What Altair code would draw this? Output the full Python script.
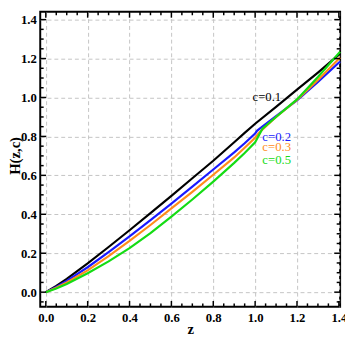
import altair as alt
import pandas as pd

series_names = ["c=0.1", "c=0.2", "c=0.3", "c=0.5"]
series_colors = ["#000000", "#1a1aff", "#ff8c1a", "#14dc14"]

z_c01 = [0, 0.05, 0.1, 0.2, 0.3, 0.4, 0.5, 0.6, 0.7, 0.8, 0.9, 0.95, 1.0, 1.1, 1.2, 1.3, 1.406]
H_c01 = [0, 0.032, 0.068, 0.148, 0.232, 0.318, 0.406, 0.495, 0.585, 0.675, 0.77, 0.818, 0.865, 0.952, 1.04, 1.128, 1.225]

z_c02 = [0, 0.05, 0.1, 0.2, 0.3, 0.4, 0.5, 0.6, 0.7, 0.8, 0.9, 0.95, 1.0, 1.01, 1.1, 1.2, 1.3, 1.406]
H_c02 = [0, 0.027, 0.058, 0.128, 0.206, 0.287, 0.37, 0.455, 0.542, 0.63, 0.718, 0.765, 0.815, 0.83, 0.905, 0.985, 1.08, 1.185]

z_c03 = [0, 0.05, 0.1, 0.2, 0.3, 0.4, 0.5, 0.6, 0.7, 0.8, 0.9, 0.95, 1.0, 1.02, 1.1, 1.2, 1.3, 1.406]
H_c03 = [0, 0.023, 0.05, 0.112, 0.185, 0.263, 0.345, 0.43, 0.515, 0.603, 0.692, 0.742, 0.793, 0.82, 0.9, 0.988, 1.09, 1.205]

z_c05 = [0, 0.05, 0.1, 0.2, 0.3, 0.4, 0.5, 0.6, 0.7, 0.8, 0.9, 0.95, 1.0, 1.035, 1.1, 1.2, 1.3, 1.406]
H_c05 = [0, 0.019, 0.042, 0.097, 0.158, 0.226, 0.303, 0.388, 0.476, 0.568, 0.664, 0.715, 0.77, 0.84, 0.9, 0.99, 1.105, 1.235]

label_z = [1.056, 1.103, 1.103, 1.103]
label_H = [1.004, 0.798, 0.743, 0.677]

major_ticks = [0.0, 0.2, 0.4, 0.6, 0.8, 1.0, 1.2, 1.4]
minor_x = [round(0.05 * i, 2) for i in range(1, 29) if i % 4 != 0]
minor_y = [round(0.05 * i, 2) for i in range(-1, 29) if i % 4 != 0]

rows = []
for name, zs, hs in zip(series_names, [z_c01, z_c02, z_c03, z_c05], [H_c01, H_c02, H_c03, H_c05]):
    for z, h in zip(zs, hs):
        rows.append({"c": name, "z": z, "H": h})
df = pd.DataFrame(rows)

lab_df = pd.DataFrame({"c": series_names, "z": label_z, "H": label_H})

W, HT = 307, 302
xs = alt.Scale(domain=[-0.0266, 1.406], nice=False, zero=False)
ys = alt.Scale(domain=[-0.0753, 1.440], nice=False, zero=False)
cs = alt.Scale(domain=series_names, range=series_colors)

FONT = "Liberation Serif"

lines = alt.Chart(df).mark_line(strokeWidth=2.2, interpolate="linear").encode(
    x=alt.X("z:Q", scale=xs, axis=alt.Axis(
        values=major_ticks, format=".1f", grid=True, gridDash=[4, 3], gridColor="#c4c4c4",
        gridWidth=1, domain=False, ticks=False, labelFlush=False, labelFont=FONT,
        labelFontWeight="bold", labelFontSize=13, labelColor="black", labelPadding=5,
        title="z", titleFont=FONT, titleFontWeight="bold", titleFontSize=15, titleColor="black",
        titleBaseline="alphabetic", titleY=27)),
    y=alt.Y("H:Q", scale=ys, axis=alt.Axis(
        values=major_ticks, format=".1f", grid=True, gridDash=[4, 3], gridColor="#c4c4c4",
        gridWidth=1, domain=False, ticks=False, labelFlush=False, labelFont=FONT,
        labelFontWeight="bold", labelFontSize=13, labelColor="black", labelPadding=4,
        title="H(z,c)", titleFont=FONT, titleFontWeight="bold", titleFontSize=15,
        titleColor="black", titleAngle=270, titleBaseline="alphabetic", titleX=-21, titleY=147)),
    color=alt.Color("c:N", scale=cs, legend=None, sort=series_names),
    detail="c:N",
)

texts = alt.Chart(lab_df).mark_text(font=FONT, fontSize=13, align="center", baseline="middle").encode(
    x=alt.X("z:Q", scale=xs),
    y=alt.Y("H:Q", scale=ys),
    color=alt.Color("c:N", scale=cs, legend=None),
    text="c:N",
)

def xticks(vals, length, top):
    d = pd.DataFrame({"v": vals})
    if top:
        yv, y2v = 0, length
    else:
        yv, y2v = HT, HT - length
    return alt.Chart(d).mark_rule(color="black", strokeWidth=1.5).encode(
        x=alt.X("v:Q", scale=xs), y=alt.value(yv), y2=alt.value(y2v))

def yticks(vals, length, right):
    d = pd.DataFrame({"v": vals})
    if right:
        xv, x2v = W, W - length
    else:
        xv, x2v = 0, length
    return alt.Chart(d).mark_rule(color="black", strokeWidth=1.5).encode(
        y=alt.Y("v:Q", scale=ys), x=alt.value(xv), x2=alt.value(x2v))

tick_layers = [
    xticks(major_ticks, 6, False), xticks(minor_x, 3.5, False),
    xticks(major_ticks, 6, True), xticks(minor_x, 3.5, True),
    yticks(major_ticks, 6, False), yticks(minor_y, 3.5, False),
    yticks(major_ticks, 6, True), yticks(minor_y, 3.5, True),
]

chart = alt.layer(lines, texts, *tick_layers).properties(
    width=W, height=HT,
    autosize=alt.AutoSizeParams(type="none"),
    padding={"left": 33, "top": 0, "right": 5, "bottom": 28},
    background="white",
).configure_view(stroke="black", strokeWidth=2)

chart.save("out.html", embed_options={"renderer": "svg", "actions": False})
